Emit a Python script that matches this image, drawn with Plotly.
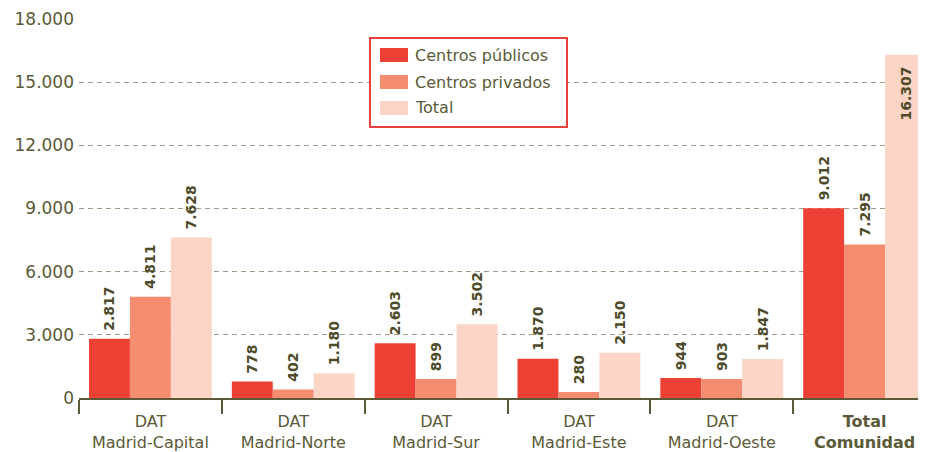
import plotly.graph_objects as go

categories = ["DAT<br>Madrid-Capital", "DAT<br>Madrid-Norte", "DAT<br>Madrid-Sur",
              "DAT<br>Madrid-Este", "DAT<br>Madrid-Oeste", "<b>Total</b><br><b>Comunidad</b>"]
publicos = [2817, 778, 2603, 1870, 944, 9012]
privados = [4811, 402, 899, 280, 903, 7295]
total = [7628, 1180, 3502, 2150, 1847, 16307]
y_ticks = [0, 3000, 6000, 9000, 12000, 15000, 18000]
series_names = ["Centros públicos", "Centros privados", "Total"]
series_colors = ["#ee4136", "#f48c70", "#fcd5c7"]

TXT = "#5b5a38"
LBL = "#4d4b2a"
FONT = "DejaVu Sans"

# the page body has an 8px margin; the figure is sized to fit the 926x452 window
OFF = 8
W, H = 926 - OFF, 452 - OFF
# plot-area geometry in window px, converted to figure px
L, R, T, B = 79 - OFF, 926 - OFF, 19 - OFF, 398 - OFF


def px_x(p):
    return (p - OFF - L) / (R - L)


def px_y(p):
    return (B - (p - OFF)) / (B - T)


fig = go.Figure()
for name, vals, col in zip(series_names, [publicos, privados, total], series_colors):
    pos = ["inside" if v > 15000 else "outside" for v in vals]
    tmpl = ["<b>%{y:,.0f}</b>  " if v > 15000 else "<b> %{y:,.0f}</b>" for v in vals]
    fig.add_trace(go.Bar(
        x=categories, y=vals, name=name, marker=dict(color=col, line=dict(width=0)),
        texttemplate=tmpl, textposition=pos, textangle=-90,
        insidetextanchor="end", cliponaxis=False, showlegend=False,
        textfont=dict(family=FONT, size=14, color=LBL),
        insidetextfont=dict(family=FONT, size=14, color=LBL),
        outsidetextfont=dict(family=FONT, size=14, color=LBL),
    ))

shapes = [dict(type="rect", xref="paper", yref="paper",
               x0=px_x(370), x1=px_x(567), y0=px_y(127), y1=px_y(38),
               line=dict(color="#e8403a", width=2), fillcolor="white", layer="above")]
annotations = []
centers = [55, 82, 108]
for name, col, cy in zip(series_names, series_colors, centers):
    shapes.append(dict(type="rect", xref="paper", yref="paper",
                       x0=px_x(380), x1=px_x(408), y0=px_y(cy + 7), y1=px_y(cy - 7),
                       line=dict(width=0), fillcolor=col, layer="above"))
    annotations.append(dict(xref="paper", yref="paper", x=px_x(413), y=px_y(cy),
                            xanchor="left", yanchor="middle", text=name, showarrow=False,
                            font=dict(family=FONT, size=16, color=TXT)))

fig.update_layout(
    width=W, height=H,
    margin=dict(l=L, r=W - R, t=T, b=H - B, pad=0),
    paper_bgcolor="white", plot_bgcolor="white",
    barmode="group", bargap=0.14, bargroupgap=0,
    separators=",.",
    font=dict(family=FONT, color=TXT),
    uniformtext=dict(minsize=14, mode="show"),
    showlegend=False,
    shapes=shapes, annotations=annotations,
    xaxis=dict(range=[-0.5, 5.43], showline=True, linecolor="#5c5a36", linewidth=2,
               ticks="outside", tickson="boundaries", ticklen=14, tickcolor="#5c5a36",
               tickwidth=2, tickfont=dict(family=FONT, size=16, color=TXT),
               ticklabelstandoff=8,
               showgrid=False, automargin=False, fixedrange=True),
    yaxis=dict(range=[0, 18000], tickvals=y_ticks, tickformat=",.0f",
               showgrid=True, gridcolor="#a09c84", griddash="5px,4px", gridwidth=1,
               zeroline=False, showline=False, ticks="", ticklabelstandoff=4,
               automargin=False, tickfont=dict(family=FONT, size=17, color=TXT)),
)
fig.write_html("out.html")
